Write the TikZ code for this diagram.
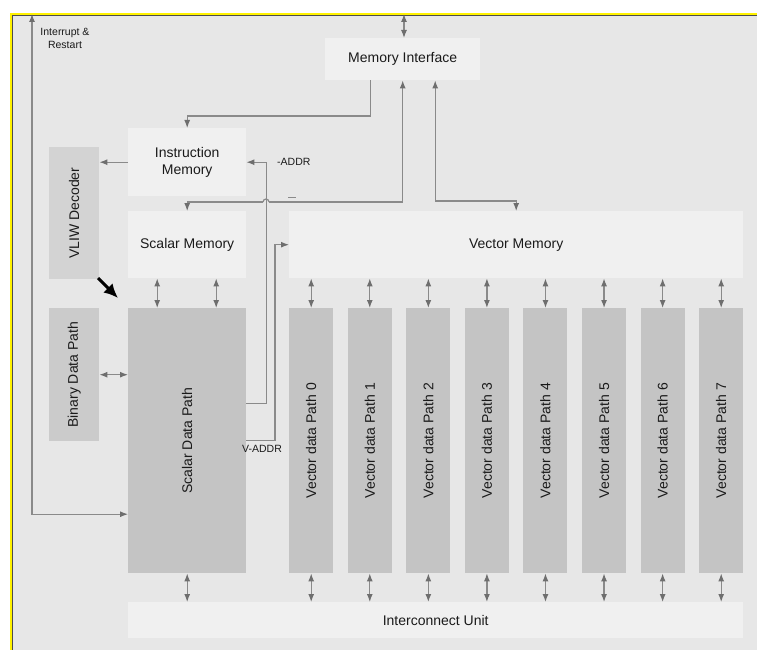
\documentclass[tikz,border=0pt]{standalone}
\usepackage{fontspec}
\setmainfont{Liberation Sans}
\usepackage{graphicx}
\usetikzlibrary{arrows.meta,calc}
\definecolor{framebg}{HTML}{E7E7E7}
\definecolor{lightbox}{HTML}{F0F0F0}
\definecolor{vliwgray}{HTML}{D3D3D3}
\definecolor{bingray}{HTML}{CBCBCB}
\definecolor{pathgray}{HTML}{C4C4C4}
\definecolor{linegray}{HTML}{8A8A8A}
\definecolor{headgray}{HTML}{6E6E6E}
\definecolor{txt}{HTML}{1A1A1A}
\tikzset{
  blk/.style={rectangle, inner sep=0pt, anchor=north west, draw=none, text=txt,
    font=\fontsize{14}{17}\selectfont, align=center},
  light/.style={blk, fill=lightbox},
  vliwbox/.style={blk, fill=vliwgray},
  binbox/.style={blk, fill=bingray},
  pathbox/.style={blk, fill=pathgray},
  conn/.style={draw=linegray, line width=1.2pt},
  hd/.tip={Latex[length=8pt,width=6pt,color=headgray]},
  arr/.style={conn, -hd},
  dbl/.style={conn, hd-hd},
  small/.style={font=\fontsize{10.5}{13}\selectfont, text=txt, align=center, inner sep=0pt}
}
\begin{document}
\begin{tikzpicture}[x=1pt,y=-1pt]
\useasboundingbox (0,0) rectangle (757,650);
% frame
\fill[framebg] (11,14) rectangle (757,650);
\draw[yellow, line width=1.6pt] (11,650) -- (11,14) -- (757,14);
\draw[black!70, line width=0.4pt] (12,650) -- (12,15) -- (757,15);

% boxes
\node[light, minimum width=155pt, minimum height=42pt] (mi) at (325,38) {Memory Interface};
\node[light, minimum width=118pt, minimum height=68pt] (im) at (128,128) {Instruction\\Memory};
\node[light, minimum width=118pt, minimum height=67pt] (sm) at (128,211) {Scalar Memory};
\node[light, minimum width=454pt, minimum height=67pt] (vm) at (289,211) {Vector Memory};
\node[vliwbox, minimum width=50pt, minimum height=132pt] (vliw) at (49,147) {\rotatebox{90}{VLIW Decoder}};
\node[binbox, minimum width=50pt, minimum height=133pt] (bdp) at (49,308) {\rotatebox{90}{Binary Data Path}};
\node[pathbox, minimum width=118pt, minimum height=265pt] (sdp) at (128,308) {\rotatebox{90}{Scalar Data Path}};
\foreach \i in {0,...,7} {
  \node[pathbox, minimum width=44pt, minimum height=265pt] (vp\i) at ({289+58.57*\i},308) {\rotatebox{90}{Vector data Path \i}};
}
\node[light, minimum width=615pt, minimum height=36pt] (icu) at (128,602) {Interconnect Unit};

% labels
\node[small] (lint) at (65,38.5) {Interrupt \&\\Restart};
\node[small, anchor=west] (laddr) at (277,162) {-ADDR};
\node[small] (lvaddr) at (262,449) {V-ADDR};
\draw[linegray, line width=1pt] (288,197) -- (296,197);

% memory interface to frame top
\coordinate (ftop) at (404,14);
\draw[dbl] (ftop) -- (ftop |- mi.north);

% memory interface to instruction memory
\draw[arr] ([xshift=-32pt]mi.south) |- ([yshift=12pt]im.north) -- (im.north);
% memory interface to scalar memory (with hop)
\coordinate (hopR) at (269,202);
\coordinate (hopL) at (263,202);
\draw[conn, hd-] (mi.south) |- (hopR);
\draw[conn] (hopR) arc[start angle=0, end angle=180, radius=3pt];
\draw[conn, -hd] (hopL) -| (sm.north);
% memory interface to vector memory
\draw[dbl] ([xshift=32.5pt]mi.south) |- ([yshift=10pt]vm.north) -- (vm.north);

% instruction memory to VLIW decoder
\draw[arr] (im.west) -- (im.west -| vliw.east);
% ADDR from scalar data path to instruction memory
\draw[arr] ([yshift=37.5pt]sdp.east) -| ([xshift=20pt]im.east) -- (im.east);
% V-ADDR from scalar data path to vector memory
\draw[arr] (sdp.east) -| ([xshift=-14pt]vm.west) -- (vm.west);

% scalar memory <-> scalar data path
\draw[dbl] ([xshift=-30pt]sm.south) -- ([xshift=-30pt]sdp.north);
\draw[dbl] ([xshift=29pt]sm.south) -- ([xshift=29pt]sdp.north);
% binary <-> scalar
\draw[dbl] (bdp.east) -- (bdp.east -| sdp.west);
% scalar <-> interconnect
\draw[dbl] (sdp.south) -- (sdp.south |- icu.north);
% vector paths
\foreach \i in {0,...,7} {
  \draw[dbl] (vp\i.north |- vm.south) -- (vp\i.north);
  \draw[dbl] (vp\i.south) -- (vp\i.south |- icu.north);
}

% interrupt & restart
\coordinate (itop) at (32,14);
\draw[dbl] (itop) |- ([yshift=-73.5pt]sdp.west);

% black arrow
\coordinate (ba1) at (98,278);
\coordinate (ba2) at (118,298);
\draw[black, line width=3pt, -{Latex[length=14pt,width=13pt]}] (ba1) -- (ba2);
\end{tikzpicture}
\end{document}
